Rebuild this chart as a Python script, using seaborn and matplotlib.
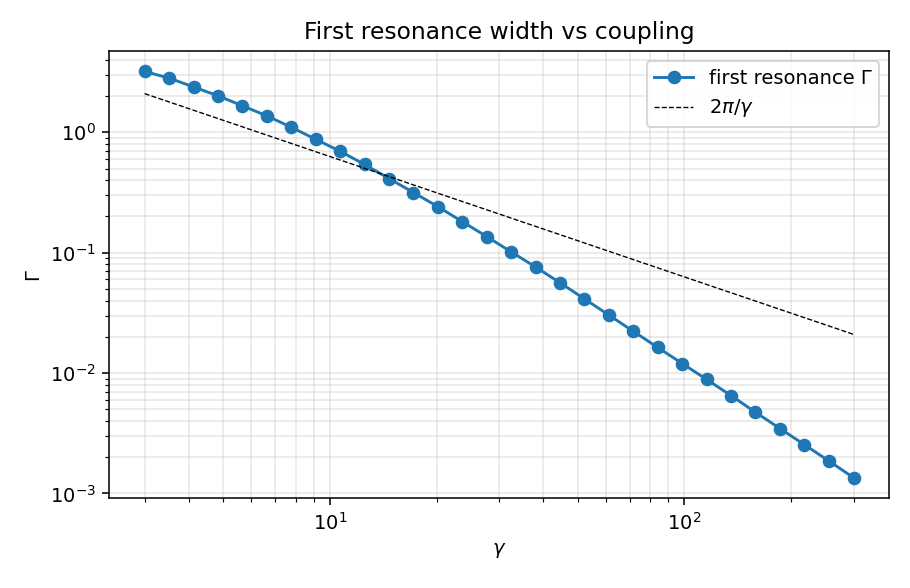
import matplotlib
matplotlib.use("Agg")
import matplotlib.pyplot as plt
import seaborn as sns
import numpy as np
import pandas as pd

gamma = [3.0, 3.516, 4.121, 4.830, 5.660, 6.634, 7.775, 9.112, 10.68, 12.52,
         14.67, 17.19, 20.15, 23.62, 27.68, 32.44, 38.02, 44.56, 52.23, 61.21,
         71.74, 84.08, 98.54, 115.5, 135.4, 158.6, 185.9, 217.9, 255.4, 300.0]
width = [3.20, 2.82, 2.38, 2.01, 1.66, 1.37, 1.10, 0.875, 0.695, 0.540,
         0.413, 0.316, 0.241, 0.181, 0.136, 0.1015, 0.0760, 0.0562, 0.0413, 0.0303,
         0.0222, 0.0163, 0.0120, 0.00884, 0.00649, 0.00472, 0.00346, 0.00254, 0.00186, 0.00135]

df = pd.DataFrame({"gamma": gamma, "width": width})
ref = 2 * np.pi / np.array(gamma)

fig, ax = plt.subplots(figsize=(6.5, 4.2), dpi=140)
sns.lineplot(data=df, x="gamma", y="width", marker="o", markersize=7,
             markeredgewidth=0, color="#1f77b4", linewidth=1.5,
             label="first resonance Γ", ax=ax)
ax.plot(gamma, ref, "k--", linewidth=0.7, label=r"$2\pi/\gamma$")
ax.set_xscale("log")
ax.set_yscale("log")
ax.grid(True, which="both", alpha=0.3)
ax.set_xlabel(r"$\gamma$")
ax.set_ylabel("Γ")
ax.set_title("First resonance width vs coupling")
ax.legend(loc="upper right")
fig.subplots_adjust(left=0.12, right=0.977, top=0.913, bottom=0.153)
fig.savefig("out.png", dpi=140)
